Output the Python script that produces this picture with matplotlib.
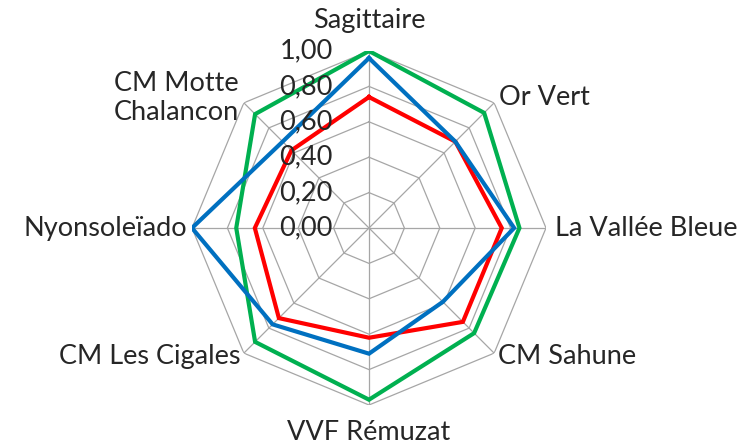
import numpy as np
import matplotlib
matplotlib.use("Agg")
import matplotlib.pyplot as plt
import matplotlib.transforms as mtransforms

categories = ["Sagittaire", "Or Vert", "La Vallée Bleue", "CM Sahune",
              "VVF Rémuzat", "CM Les Cigales", "Nyonsoleïado", "CM Motte\nChalancon"]
serie_bleue = [0.96, 0.69, 0.82, 0.59, 0.71, 0.77, 1.00, 0.69]
serie_rouge = [0.74, 0.69, 0.75, 0.75, 0.62, 0.72, 0.645, 0.62]
serie_verte = [1.00, 0.92, 0.85, 0.84, 0.97, 0.91, 0.75, 0.91]
r_ticks = [0.0, 0.2, 0.4, 0.6, 0.8, 1.0]
r_tick_labels = ["0,00", "0,20", "0,40", "0,60", "0,80", "1,00"]

plt.rcParams['font.family'] = ['Lato', 'DejaVu Sans']

W, H = 750, 448
fig = plt.figure(figsize=(W / 100, H / 100), dpi=100)
cx, cy, R = 369, 228, 177
ax = fig.add_axes([(cx - R) / W, (H - cy - R) / H, 2 * R / W, 2 * R / H], polar=True)
ax.set_theta_zero_location("N")
ax.set_theta_direction(-1)
ax.set_ylim(0, 1.0)
ax.grid(False)
ax.spines['polar'].set_visible(False)
ax.set_xticks([])
ax.set_yticks([])
ax.patch.set_alpha(0)

n = len(categories)
theta = np.arange(n) * 2 * np.pi / n
theta_c = np.append(theta, theta[0])

grid_col = "#A6A6A6"
for v in r_ticks[1:]:
    ax.plot(theta_c, [v] * (n + 1), color=grid_col, lw=0.9, zorder=1)
for t in theta:
    ax.plot([t, t], [0, 1.0], color=grid_col, lw=0.9, zorder=1)

def close(vals):
    return np.append(vals, vals[0])

ax.plot(theta_c, close(serie_rouge), color="#FF0000", lw=3.0, zorder=3, solid_joinstyle='miter')
ax.plot(theta_c, close(serie_verte), color="#00B050", lw=3.0, zorder=3, solid_joinstyle='miter')
ax.plot(theta_c, close(serie_bleue), color="#0070C0", lw=3.0, zorder=4, solid_joinstyle='miter')

fs = 19.5
# radial tick labels
off = mtransforms.ScaledTranslation(-0.36, 0, fig.dpi_scale_trans)
for v, lab in zip(r_ticks, r_tick_labels):
    ax.text(0, v, lab, ha='right', va='center', fontsize=fs, color="#262626",
            transform=ax.transData + off, zorder=5)

# category labels
placements = [
    (1.17, 'center', 'center'),
    (1.04, 'left', 'center'),
    (1.05, 'left', 'center'),
    (1.03, 'left', 'center'),
    (1.155, 'center', 'center'),
    (1.03, 'right', 'center'),
    (1.025, 'right', 'center'),
    (1.04, 'right', 'center'),
]
for t, lab, (r, ha, va) in zip(theta, categories, placements):
    ax.text(t, r, lab, ha=ha, va=va, fontsize=fs, color="#262626",
            multialignment='center', linespacing=1.2, clip_on=False)

fig.savefig("out.png", dpi=100)
